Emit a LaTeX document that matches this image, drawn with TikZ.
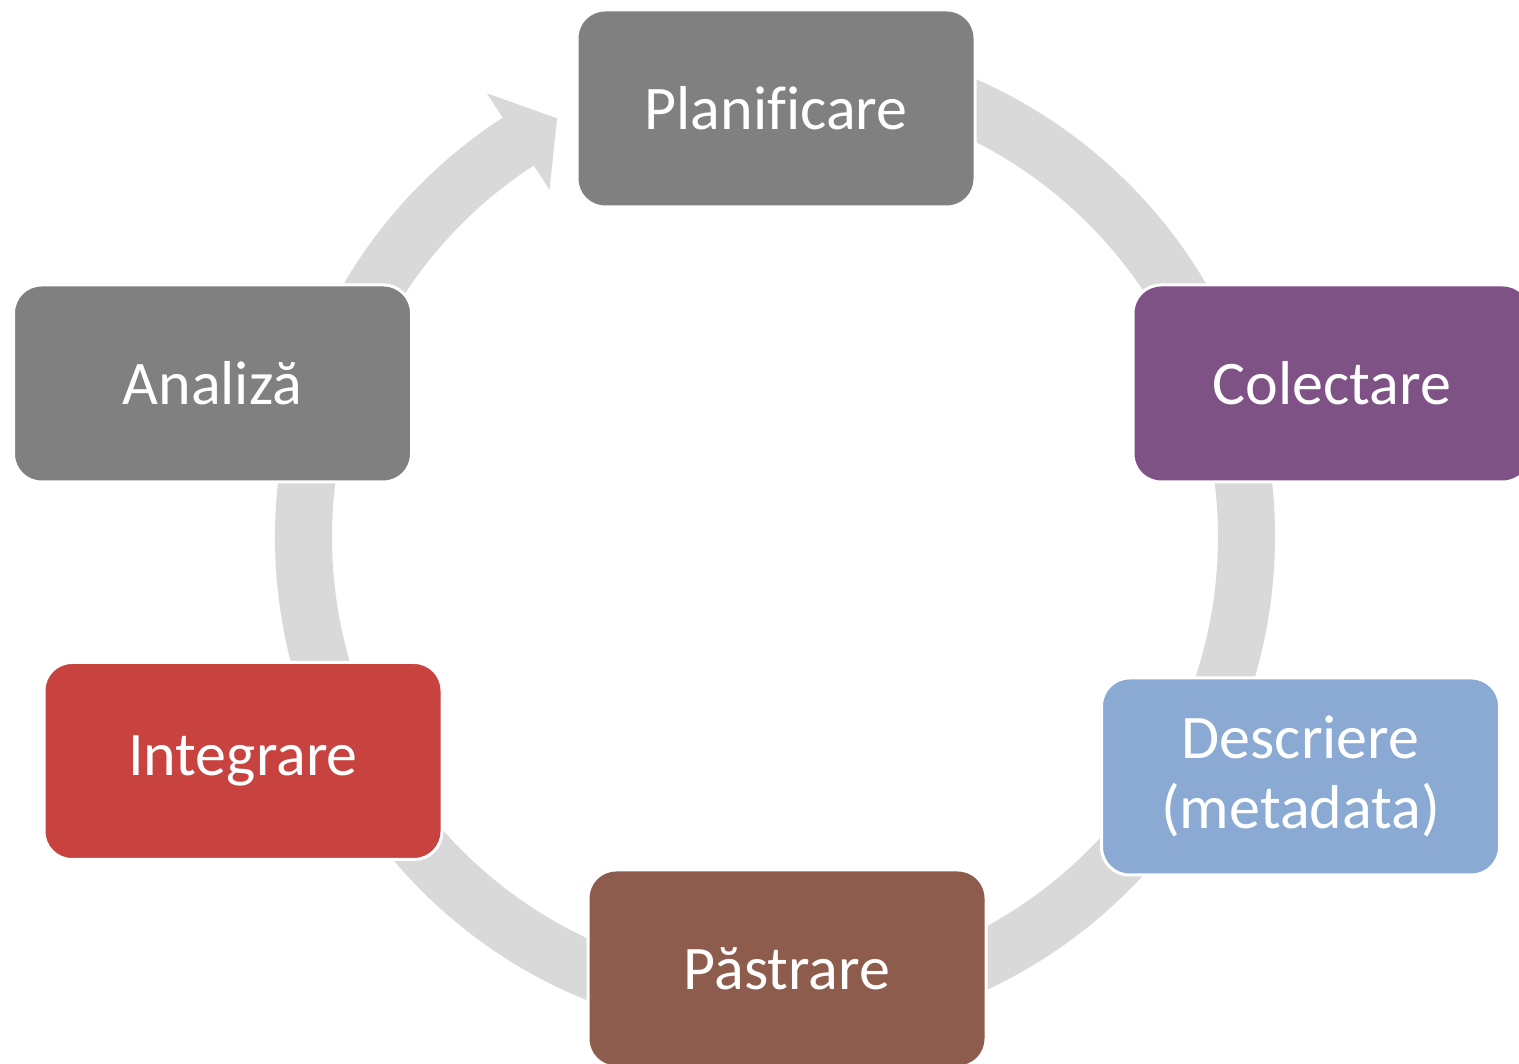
\documentclass[tikz,border=0pt]{standalone}
\usepackage{fontspec}
\setmainfont[Ligatures=NoCommon]{Carlito}
\usetikzlibrary{calc}
\definecolor{ringgray}{HTML}{D9D9D9}
\definecolor{boxgray}{HTML}{808080}
\definecolor{boxpurple}{HTML}{7F5285}
\definecolor{boxblue}{HTML}{8AAAD4}
\definecolor{boxbrown}{HTML}{8E5C4C}
\definecolor{boxred}{HTML}{C84240}
\begin{document}
\begin{tikzpicture}[x=1pt,y=1pt,
  stagebox/.style={rectangle, rounded corners=28pt, minimum width=398pt, minimum height=197pt,
    draw=white, line width=3pt, text=white, align=center,
    font=\fontsize{62}{70}\selectfont}]
\useasboundingbox (0,0) rectangle (1519,1064);
\clip (0,0) rectangle (1519,1064);
\fill[white] (0,0) rectangle (1519,1064);
\coordinate (C) at (775,527);
% ring with arrowhead
\fill[ringgray] ($(C)+(122.7:500)$) arc[start angle=122.7,end angle=450,radius=500]
  -- ($(C)+(90:443)$) arc[start angle=450,end angle=122.7,radius=443] -- cycle;
\fill[ringgray] ($(C)+(123:529)$) -- ($(C)+(117.5:472)$) -- ($(C)+(123:414)$) -- cycle;
% stages
\node[stagebox, fill=boxgray]   (plan)   at (776,955.5)  {Planificare};
\node[stagebox, fill=boxpurple] (colect) at (1332,680.5) {Colectare};
\node[stagebox, fill=boxblue]   (descr)  at (1300.5,287.5) {Descriere\\(metadata)};
\node[stagebox, fill=boxbrown]  (pastr)  at (787,95.5)   {Păstrare};
\node[stagebox, fill=boxred]    (integ)  at (243,303)    {Integrare};
\node[stagebox, fill=boxgray]   (anal)   at (212.5,680.5) {Analiză};
\end{tikzpicture}
\end{document}
